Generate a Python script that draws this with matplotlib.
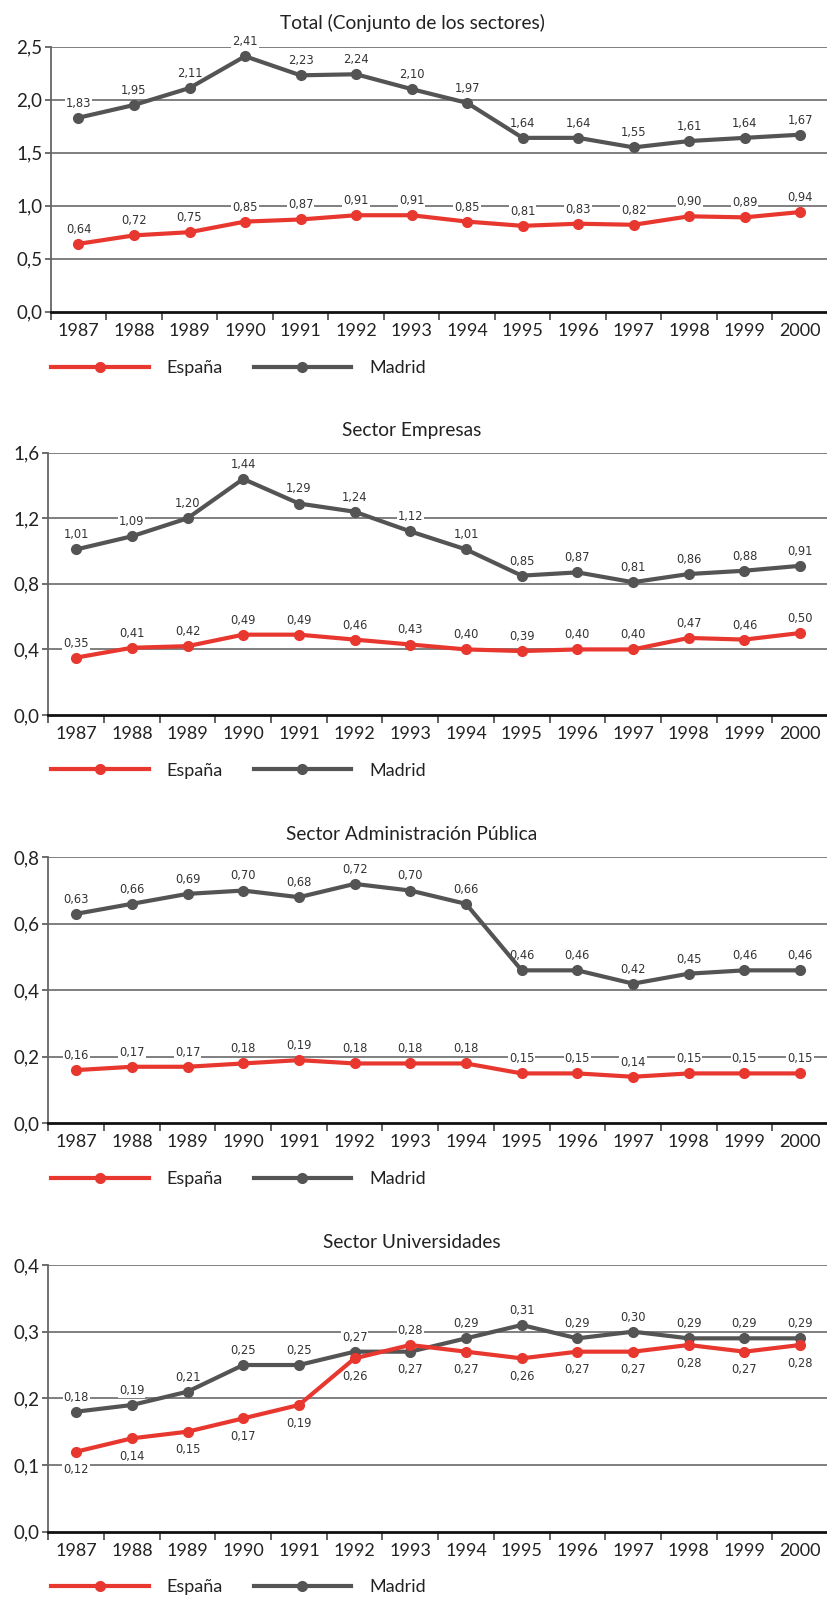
import numpy as np
import matplotlib.pyplot as plt
from matplotlib.ticker import FixedLocator, FuncFormatter

plt.rcParams['font.family'] = ['Lato', 'DejaVu Sans']

years = ['1987', '1988', '1989', '1990', '1991', '1992', '1993',
         '1994', '1995', '1996', '1997', '1998', '1999', '2000']

total_espana = [0.64, 0.72, 0.75, 0.85, 0.87, 0.91, 0.91, 0.85, 0.81, 0.83, 0.82, 0.90, 0.89, 0.94]
total_madrid = [1.83, 1.95, 2.11, 2.41, 2.23, 2.24, 2.10, 1.97, 1.64, 1.64, 1.55, 1.61, 1.64, 1.67]

empresas_espana = [0.35, 0.41, 0.42, 0.49, 0.49, 0.46, 0.43, 0.40, 0.39, 0.40, 0.40, 0.47, 0.46, 0.50]
empresas_madrid = [1.01, 1.09, 1.20, 1.44, 1.29, 1.24, 1.12, 1.01, 0.85, 0.87, 0.81, 0.86, 0.88, 0.91]

admin_espana = [0.16, 0.17, 0.17, 0.18, 0.19, 0.18, 0.18, 0.18, 0.15, 0.15, 0.14, 0.15, 0.15, 0.15]
admin_madrid = [0.63, 0.66, 0.69, 0.70, 0.68, 0.72, 0.70, 0.66, 0.46, 0.46, 0.42, 0.45, 0.46, 0.46]

univ_espana = [0.12, 0.14, 0.15, 0.17, 0.19, 0.26, 0.28, 0.27, 0.26, 0.27, 0.27, 0.28, 0.27, 0.28]
univ_madrid = [0.18, 0.19, 0.21, 0.25, 0.25, 0.27, 0.27, 0.29, 0.31, 0.29, 0.30, 0.29, 0.29, 0.29]

# +1 = etiqueta encima del punto, -1 = debajo
univ_espana_pos = [-1, -1, -1, -1, -1, -1, 1, -1, -1, -1, -1, -1, -1, -1]
univ_madrid_pos = [1, 1, 1, 1, 1, 1, -1, 1, 1, 1, 1, 1, 1, 1]

ROJO = '#e8372f'
GRIS = '#545454'
W, H = 828, 1598

paneles = [
    # titulo, espana, madrid, yticks, pos esp, pos mad, (izq, arriba, abajo, y titulo, y leyenda) px
    ('Total (Conjunto de los sectores)', total_espana, total_madrid,
     [0, 0.5, 1.0, 1.5, 2.0, 2.5], None, None, (50.7, 46.7, 311.7, 23, 368)),
    ('Sector Empresas', empresas_espana, empresas_madrid,
     [0, 0.4, 0.8, 1.2, 1.6], None, None, (48.3, 452.7, 715, 430.7, 770.7)),
    ('Sector Administración Pública', admin_espana, admin_madrid,
     [0, 0.2, 0.4, 0.6, 0.8], None, None, (48.3, 857.3, 1123.3, 834, 1179.3)),
    ('Sector Universidades', univ_espana, univ_madrid,
     [0, 0.1, 0.2, 0.3, 0.4], univ_espana_pos, univ_madrid_pos, (48.3, 1265, 1531.7, 1242, 1587)),
]

fig = plt.figure(figsize=(W / 100, H / 100), dpi=100)
x = np.arange(len(years))


def etiquetas(ax, valores, posiciones):
    for i, v in enumerate(valores):
        p = 1 if posiciones is None else posiciones[i]
        dy = 10.5 if p > 0 else -13
        ax.annotate(f'{v:.2f}'.replace('.', ','), (i, v), xytext=(0, dy),
                    textcoords='offset points', ha='center', va='center',
                    fontsize=8.3, color='#333333', family='DejaVu Sans',
                    bbox=dict(boxstyle='square,pad=0.08', fc='white', ec='none'),
                    zorder=1.5)


for titulo, esp, mad, yt, pos_e, pos_m, (izq, arriba, abajo, ytit, yley) in paneles:
    ax = fig.add_axes([izq / W, 1 - abajo / H, 1 - izq / W, (abajo - arriba) / H])
    ax.set_xlim(-0.5, len(years) - 0.5)
    ax.set_ylim(yt[0], yt[-1])

    l1, = ax.plot(x, esp, color=ROJO, lw=3, marker='o', ms=7, label='España', zorder=3,
                  solid_joinstyle='round')
    l2, = ax.plot(x, mad, color=GRIS, lw=3, marker='o', ms=7, label='Madrid', zorder=2,
                  solid_joinstyle='round')
    etiquetas(ax, esp, pos_e)
    etiquetas(ax, mad, pos_m)

    for v in yt[1:]:
        ax.axhline(v, color='#6a6a6a', lw=1.2, zorder=0.5)

    ax.yaxis.set_major_locator(FixedLocator(yt))
    ax.yaxis.set_major_formatter(FuncFormatter(lambda v, p: f'{v:.1f}'.replace('.', ',')))
    ax.set_xticks(x)
    ax.set_xticklabels(years)
    ax.set_xticks(np.arange(-0.5, len(years), 1.0), minor=True)
    ax.tick_params(axis='x', which='major', length=0, pad=8, labelsize=13, labelcolor='#222222')
    ax.tick_params(axis='x', which='minor', length=6, width=1.3, color='#555555')
    ax.tick_params(axis='y', length=4, width=1.2, color='#555555', pad=2,
                   labelsize=13.5, labelcolor='#222222')

    for s in ['top', 'right']:
        ax.spines[s].set_visible(False)
    ax.spines['left'].set_color('#666666')
    ax.spines['left'].set_linewidth(1.3)
    ax.spines['bottom'].set_color('#111111')
    ax.spines['bottom'].set_linewidth(2)

    fig.text(412 / W, 1 - ytit / H, titulo, ha='center', va='center', fontsize=13.8, color='#222222')

    ax.legend(handles=[l1, l2], ncol=2, frameon=False, loc='center left',
              bbox_to_anchor=(51 / W, 1 - yley / H), bbox_transform=fig.transFigure,
              fontsize=13, handlelength=5.4, handletextpad=1.0, columnspacing=1.7,
              borderpad=0, borderaxespad=0, labelcolor='#222222')

fig.savefig('out.png', dpi=100)
